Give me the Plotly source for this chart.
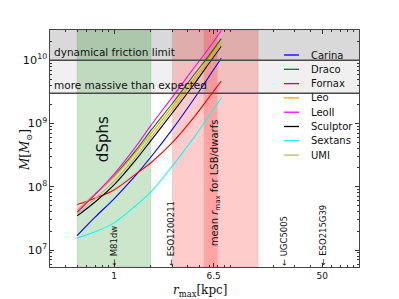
import plotly.graph_objects as go
import math

# ---------------- data ----------------
r_max = [0.5, 0.7, 1.0, 1.5, 2.0, 3.0, 4.5, 6.0, 7.5]  # kpc

galaxies = ["Carina", "Draco", "Fornax", "Leo", "LeoII", "Sculptor", "Sextans", "UMI"]
colors = ["#0000ff", "#008000", "#ff0000", "#ffa500", "#ff00ff", "#000000", "#00ffff", "#bdb76b"]

# log10(M / Msun) at r_max points
logM_Carina   = [7.23, 7.52, 7.81, 8.18, 8.47, 8.91, 9.39, 9.75, 10.03]
logM_Draco    = [7.60, 7.88, 8.17, 8.57, 8.89, 9.32, 9.77, 10.08, 10.34]
logM_Fornax   = [7.72, 7.82, 7.95, 8.20, 8.38, 8.70, 9.10, 9.42, 9.67]
logM_Leo      = [7.63, 7.89, 8.16, 8.54, 8.84, 9.27, 9.71, 10.03, 10.29]
logM_LeoII    = [7.60, 7.88, 8.20, 8.63, 8.97, 9.42, 9.88, 10.20, 10.47]
logM_Sculptor = [7.54, 7.76, 8.03, 8.42, 8.73, 9.17, 9.62, 9.96, 10.22]
logM_Sextans  = [7.19, 7.29, 7.43, 7.70, 7.92, 8.33, 8.78, 9.13, 9.40]
logM_UMI      = [7.57, 7.81, 8.09, 8.47, 8.78, 9.22, 9.67, 9.99, 10.25]
series = [logM_Carina, logM_Draco, logM_Fornax, logM_Leo, logM_LeoII,
          logM_Sculptor, logM_Sextans, logM_UMI]

# reference regions
friction_limit = 1e10
massive_limit = 3e9
dsph_range = [0.5, 2.0]
lsb_range = [3.0, 15.0]
lsb_mean_range = [5.4, 7.0]

# individual objects (r_max, kpc)
obj_names = ["M81dw", "ESO1200211", "UGC5005", "ESO215G39"]
obj_rmax = [1.0, 2.9, 24.5, 50.0]

x_ticks = [1, 6.5, 50]
x_ticktext = ["1", "6.5", "50"]
x_range = [0.3, 100]
y_range = [5.4e6, 3e10]

# ---------------- figure ----------------
L, R, T, B = 50, 40, 30, 32
W, H = 399, 299
PW, PH = W - L - R, H - T - B

fig = go.Figure()

for name, col, vals in zip(galaxies, colors, series):
    fig.add_trace(go.Scatter(
        x=r_max, y=[10 ** v for v in vals], mode="lines", name=name,
        line=dict(color=col, width=1.1, shape="spline"), showlegend=False))

shapes = []
shapes.append(dict(type="rect", xref="x", yref="y", x0=x_range[0], x1=x_range[1],
                   y0=friction_limit, y1=y_range[1], fillcolor="#d9d9d9", line_width=0, layer="below"))
shapes.append(dict(type="rect", xref="x", yref="y", x0=x_range[0], x1=x_range[1],
                   y0=massive_limit, y1=friction_limit, fillcolor="#f0f0f0", line_width=0, layer="below"))
shapes.append(dict(type="rect", xref="x", yref="y", x0=dsph_range[0], x1=dsph_range[1],
                   y0=y_range[0], y1=y_range[1], fillcolor="rgba(0,128,0,0.2)",
                   line=dict(color="rgba(0,90,0,0.12)", width=1), layer="below"))
shapes.append(dict(type="rect", xref="x", yref="y", x0=lsb_range[0], x1=lsb_range[1],
                   y0=y_range[0], y1=y_range[1], fillcolor="rgba(255,0,0,0.2)",
                   line=dict(color="rgba(120,0,0,0.1)", width=1), layer="below"))
shapes.append(dict(type="rect", xref="x", yref="y", x0=lsb_mean_range[0], x1=lsb_mean_range[1],
                   y0=y_range[0], y1=y_range[1], fillcolor="rgba(255,0,0,0.2)",
                   line_width=0, layer="below"))
for yl in (friction_limit, massive_limit):
    shapes.append(dict(type="line", xref="paper", yref="y", x0=0, x1=1, y0=yl, y1=yl,
                       line=dict(color="#4a4a4a", width=1.6)))

annotations = []
annotations.append(dict(x=math.log10(0.31), y=math.log10(friction_limit), xref="x", yref="y",
                        text="dynamical friction limit", showarrow=False, xanchor="left",
                        yanchor="bottom", font=dict(size=10.5, color="#111")))
annotations.append(dict(x=math.log10(0.31), y=math.log10(massive_limit), xref="x", yref="y",
                        text="more massive than expected", showarrow=False, xanchor="left",
                        yanchor="bottom", font=dict(size=10.5, color="#111")))
annotations.append(dict(x=math.log10(0.81), y=8.75, xref="x", yref="y", text="dSphs",
                        textangle=-90, showarrow=False, font=dict(size=15, color="#111")))
annotations.append(dict(x=math.log10(6.67), y=8.07, xref="x", yref="y",
                        text="mean <i>r</i><sub>max</sub> for LSB/dwarfs",
                        textangle=-90, showarrow=False, font=dict(size=10, color="#111")))
for nm, rv in zip(obj_names, obj_rmax):
    annotations.append(dict(x=math.log10(rv), y=0, xref="x", yref="paper",
                            text="\u2190 " + nm, textangle=-90, showarrow=False,
                            xanchor="center", yanchor="bottom", borderpad=0,
                            font=dict(size=8.5, color="#111")))

# compact matplotlib-like legend
for i, (nm, col) in enumerate(zip(galaxies, colors)):
    ypx = 55 + 14.3 * i
    yp = (H - B - ypx) / PH
    shapes.append(dict(type="line", xref="paper", yref="paper",
                       x0=(284 - L) / PW, x1=(299 - L) / PW, y0=yp, y1=yp,
                       line=dict(color=col, width=1.3)))
    annotations.append(dict(x=(309 - L) / PW, y=yp, xref="paper", yref="paper",
                            text=nm, showarrow=False, xanchor="left", yanchor="middle",
                            font=dict(size=10, color="#111")))

# axis titles
annotations.append(dict(x=(200 - L) / PW, y=(H - B - 290) / PH, xref="paper", yref="paper",
                        text="<i>r</i><sub>max</sub>[kpc]", showarrow=False, yshift=-11,
                        font=dict(family="DejaVu Serif", size=12, color="#111")))
annotations.append(dict(x=(16 - L) / PW, y=(H - B - 150) / PH, xref="paper", yref="paper",
                        text="<i>M</i>[<i>M</i><sub>\u2299</sub>]", showarrow=False, textangle=-90,
                        font=dict(family="DejaVu Serif", size=12, color="#111")))

minor_x = [m * 10 ** e for e in (-1, 0, 1) for m in range(2, 10)] + [100]
minor_x = [v for v in minor_x if x_range[0] <= v <= x_range[1]]

fig.update_layout(
    width=W, height=H,
    margin=dict(l=L, r=R, t=T, b=B, autoexpand=False),
    paper_bgcolor="white", plot_bgcolor="white",
    font=dict(family="DejaVu Sans", size=9, color="#111"),
    shapes=shapes, annotations=annotations,
    showlegend=False, hovermode=False,
)
fig.update_xaxes(
    type="log", range=[math.log10(x_range[0]), math.log10(x_range[1])], automargin=False,
    tickmode="array", tickvals=x_ticks, ticktext=x_ticktext,
    ticks="inside", ticklen=4, tickcolor="#333", showgrid=False, zeroline=False,
    showline=True, linecolor="#444", linewidth=1, mirror="allticks",
    minor=dict(tickmode="array", tickvals=minor_x, ticks="inside", ticklen=2, tickcolor="#333"),
    tickfont=dict(size=9),
)
fig.update_yaxes(
    type="log", range=[math.log10(y_range[0]), math.log10(y_range[1])], automargin=False,
    dtick=1, exponentformat="power", showexponent="all",
    ticks="inside", ticklen=4, tickcolor="#333", showgrid=False, zeroline=False,
    showline=True, linecolor="#444", linewidth=1, mirror="allticks",
    minor=dict(ticks="inside", ticklen=2, tickcolor="#333", showgrid=False),
    tickfont=dict(size=9),
)

fig.write_html("out.html", config={"displayModeBar": False, "staticPlot": True},
               post_script="document.body.style.margin='0px';document.body.style.overflow='hidden';")
